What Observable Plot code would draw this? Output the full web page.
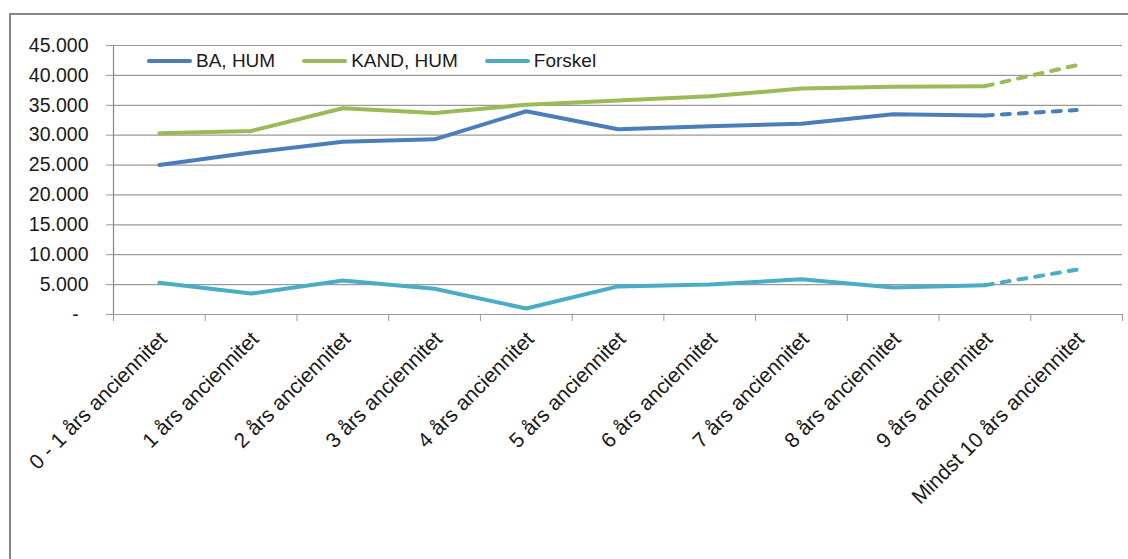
<!DOCTYPE html>
<html>
<head>
<meta charset="utf-8">
<script src="https://cdn.jsdelivr.net/npm/d3@7"></script>
<script src="https://cdn.jsdelivr.net/npm/@observablehq/plot@0.6"></script>
<style>
  html, body { margin: 0; padding: 0; background: #fff; overflow: hidden; }
  #wrap { position: relative; width: 1128px; height: 559px; overflow: hidden; font-family: "Liberation Sans", Arial, sans-serif; }
  #frame { position: absolute; left: 9px; top: 13px; width: 1300px; height: 700px; border: 2px solid #878787; box-sizing: border-box; }
  #chart { position: absolute; left: 0; top: 0; }
  #legend { position: absolute; left: 147px; top: 50px; display: flex; align-items: center; font-size: 19px; line-height: 22px; color: #1a1a1a; }
  #legend .item { display: flex; align-items: center; margin-right: 27px; }
  #legend .sw { width: 45px; height: 4px; border-radius: 2px; margin-right: 4px; }
</style>
</head>
<body>
<div id="wrap">
  <div id="frame"></div>
  <div id="chart"></div>
  <div id="legend"></div>
</div>
<script>
// Seniority categories (x axis)
const categories = [
  "0 - 1 års anciennitet",
  "1 års anciennitet",
  "2 års anciennitet",
  "3 års anciennitet",
  "4 års anciennitet",
  "5 års anciennitet",
  "6 års anciennitet",
  "7 års anciennitet",
  "8 års anciennitet",
  "9 års anciennitet",
  "Mindst 10 års anciennitet"
];

// Series values
const baHum   = [25000, 27100, 28900, 29300, 34000, 31000, 31500, 31900, 33500, 33300, 34200];
const kandHum = [30300, 30700, 34500, 33700, 35100, 35800, 36500, 37800, 38100, 38200, 41700];
const forskel = [5300, 3500, 5700, 4300, 1000, 4700, 5000, 5900, 4500, 4900, 7500];

const seriesNames  = ["BA, HUM", "KAND, HUM", "Forskel"];
const seriesValues = [baHum, kandHum, forskel];
const seriesColors = ["#4a7ebb", "#9bbb59", "#4bacc6"];

// Y axis ticks
const yTicks = [0, 5000, 10000, 15000, 20000, 25000, 30000, 35000, 40000, 45000];

// Long-format table for the line marks
const rows = [];
seriesValues.forEach((vals, s) => vals.forEach((v, i) => rows.push({i, series: seriesNames[s], value: v})));

// The last segment (into the open-ended category) is drawn dashed
const lastClosed = categories.length - 2;
const boundaries = d3.range(categories.length + 1).map(k => k - 0.5);

const fmtY = d => d === 0 ? "-\u2002" : d3.format(",")(d).replace(/,/g, ".");

const lineMarks = seriesNames.flatMap((name, s) => [
  Plot.line(rows.filter(r => r.series === name && r.i <= lastClosed), {
    x: "i", y: "value", stroke: seriesColors[s], strokeWidth: 4,
    strokeLinecap: "round", strokeLinejoin: "round"
  }),
  Plot.line(rows.filter(r => r.series === name && r.i >= lastClosed), {
    x: "i", y: "value", stroke: seriesColors[s], strokeWidth: 4,
    strokeDasharray: "8,9", strokeLinecap: "round"
  })
]);

const chart = Plot.plot({
  width: 1128,
  height: 559,
  marginLeft: 113,
  marginRight: 6,
  marginTop: 45,
  marginBottom: 245,
  style: {fontFamily: "'Liberation Sans', Arial, sans-serif", fontSize: "19.5px", color: "#1a1a1a", background: "transparent", overflow: "visible"},
  x: {type: "linear", domain: [-0.5, categories.length - 0.5], axis: null},
  y: {domain: [0, 45000], axis: null},
  marks: [
    Plot.gridY(yTicks, {stroke: "#9a9a9a", strokeOpacity: 1, strokeWidth: 1.2}),
    Plot.axisY({ticks: yTicks, tickSize: 7, tickPadding: 18, tickFormat: fmtY, stroke: "#9a9a9a", label: null}),
    Plot.axisX({ticks: boundaries, tickSize: 7, tickFormat: () => "", stroke: "#9a9a9a", label: null}),
    Plot.ruleX([-0.5], {stroke: "#888", strokeWidth: 1.2}),
    Plot.ruleY([0], {stroke: "#9a9a9a", strokeWidth: 1.2}),
    Plot.text(categories, {
      x: (d, i) => i, frameAnchor: "bottom", rotate: -45,
      textAnchor: "end", lineAnchor: "middle", dx: 4, dy: 21,
      fontSize: 21, fill: "#1a1a1a"
    }),
    ...lineMarks
  ]
});
document.getElementById("chart").appendChild(chart);

// Legend inside the plot area
const legend = document.getElementById("legend");
seriesNames.forEach((name, s) => {
  const item = document.createElement("div");
  item.className = "item";
  const sw = document.createElement("span");
  sw.className = "sw";
  sw.style.background = seriesColors[s];
  const label = document.createElement("span");
  label.textContent = name;
  item.append(sw, label);
  legend.appendChild(item);
});
</script>
</body>
</html>
